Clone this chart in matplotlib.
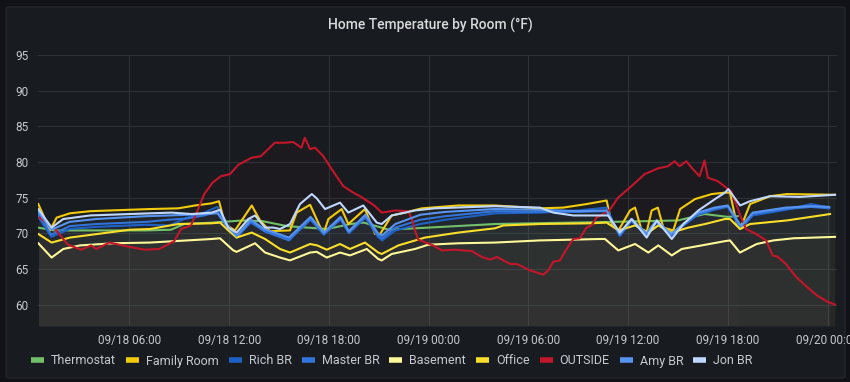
import pandas as pd
import matplotlib.pyplot as plt
import matplotlib.dates as mdates
from matplotlib.patches import FancyBboxPatch
from matplotlib.lines import Line2D

plt.rcParams['font.family'] = ['Roboto', 'DejaVu Sans']

# Time values are hours after 09/18 00:00
start = pd.Timestamp('2019-09-18 00:00')

thermo_t = [0.5, 1.5, 7.0, 8.5, 9.3, 11.0, 12.8, 14.0, 15.5, 17.9, 19.3, 20.1, 21.6, 28.0, 35.0, 39.0, 40.6, 42.0, 42.6]
thermo_v = [70.8, 70.4, 70.4, 70.5, 71.3, 71.5, 71.8, 71.7, 71.0, 70.6, 71.3, 71.5, 70.5, 71.3, 71.6, 71.8, 72.7, 72.3, 72.4]

family_t = [0.52, 1.22, 1.62, 2.42, 3.63, 6.03, 7.24, 8.94, 9.95, 10.95, 11.39, 11.75, 12.35, 13.36, 13.86, 14.46,
            15.66, 16.06, 16.87, 17.67, 17.97, 18.77, 19.17, 20.17, 20.78, 21.08, 21.78, 22.58, 23.59, 25.79, 27.99,
            30.7, 32.09, 33.51, 34.71, 35.02, 35.42, 36.12, 36.42, 36.82, 37.12, 37.42, 37.79, 38.12, 38.72, 39.13,
            40.03, 41.03, 41.83, 42.13, 42.54, 42.74, 43.34, 44.54, 45.55, 48.45]
family_v = [74.1, 70.4, 72.2, 72.8, 73.1, 73.3, 73.4, 73.5, 73.9, 74.2, 74.5, 71.3, 70.4, 73.9, 71.8, 70.3,
            70.4, 72.9, 74.0, 69.9, 72.0, 73.4, 71.3, 73.4, 69.9, 69.9, 72.5, 72.9, 73.5, 73.9, 73.9,
            73.5, 73.6, 74.1, 74.6, 71.3, 70.4, 73.2, 73.6, 70.4, 70.2, 73.2, 73.6, 70.8, 70.4, 73.4,
            74.8, 75.5, 75.7, 75.7, 71.3, 70.6, 74.1, 75.2, 75.5, 75.4]

# the three bedroom sensors share one set of sample times
blue_t = [0.52, 1.3, 2.4, 4.0, 7.0, 8.4, 9.5, 10.5, 11.3, 11.95, 12.45, 13.3, 14.1, 15.6, 16.9, 17.7, 18.7, 19.2,
          20.2, 20.95, 21.2, 22.0, 23.5, 25.0, 28.0, 30.7, 33.0, 34.7, 35.5, 36.2, 37.1, 37.7, 38.6, 39.3, 40.2,
          41.2, 42.0, 42.8, 43.5, 45.5, 47.0, 48.1]
rich_v = [72.3, 69.5, 70.6, 70.9, 71.2, 71.1, 72.2, 72.9, 73.7, 71.0, 69.6, 71.5, 70.4, 69.2, 71.9, 69.8, 72.0, 70.0,
          72.2, 69.5, 69.0, 70.4, 71.3, 71.9, 72.8, 72.9, 73.2, 73.6, 69.6, 71.7, 69.7, 71.5, 69.6, 71.0, 72.6,
          73.3, 73.7, 70.6, 72.5, 73.3, 74.1, 73.6]
master_v = [72.6, 69.8, 71.0, 71.3, 71.6, 71.9, 72.1, 72.5, 73.0, 70.6, 69.4, 71.6, 70.3, 69.0, 72.0, 69.9, 72.0, 70.1,
            72.3, 69.7, 69.3, 70.8, 71.9, 72.4, 73.1, 73.0, 73.0, 73.1, 69.7, 71.8, 69.8, 71.6, 69.7, 71.1, 72.7,
            73.4, 73.8, 70.8, 72.7, 73.4, 73.7, 73.5]
amy_v = [73.0, 70.5, 71.6, 72.0, 72.4, 72.5, 72.6, 72.7, 72.8, 70.8, 69.6, 71.9, 70.6, 69.4, 72.3, 70.1, 72.3, 70.3,
         72.6, 70.0, 69.7, 71.3, 72.6, 73.0, 73.4, 73.3, 73.1, 73.2, 69.9, 72.0, 70.0, 71.8, 69.9, 71.3, 72.9,
         73.6, 73.9, 71.0, 72.9, 73.6, 73.8, 73.7]

basement_t = [0.52, 1.32, 2.02, 3.03, 5.01, 7.24, 10.95, 11.45, 12.25, 12.45, 13.56, 14.16, 15.06, 15.66, 16.87,
              17.27, 17.87, 18.67, 19.27, 20.28, 20.97, 21.18, 21.78, 23.18, 23.98, 25.79, 27.99, 30.7, 34.31,
              34.61, 35.41, 36.42, 37.22, 37.82, 38.63, 39.23, 40.43, 41.83, 42.13, 42.73, 43.74, 44.74, 45.95, 48.45]
basement_v = [68.6, 66.6, 67.8, 68.3, 68.6, 68.7, 69.2, 69.3, 67.6, 67.4, 68.6, 67.3, 66.6, 66.2, 67.3,
              67.4, 66.6, 67.3, 66.9, 67.8, 66.4, 66.2, 67.1, 67.8, 68.4, 68.6, 68.7, 69.0, 69.2,
              69.2, 67.6, 68.5, 67.3, 68.3, 66.9, 67.8, 68.3, 68.9, 69.0, 67.3, 68.5, 69.0, 69.3, 69.5]

office_t = [0.52, 1.32, 2.42, 6.03, 7.24, 8.94, 10.95, 11.45, 11.95, 12.45, 13.36, 14.16, 15.06, 15.66, 16.87,
            17.3, 17.87, 18.67, 19.27, 20.17, 20.97, 21.18, 22.18, 23.78, 25.79, 27.99, 28.5, 30.7, 33.71, 34.71,
            35.42, 36.42, 37.22, 37.82, 38.63, 39.63, 40.63, 41.83, 42.13, 42.74, 43.34, 45.55, 48.15]
office_v = [69.9, 68.7, 69.4, 70.5, 70.6, 71.3, 71.4, 71.5, 70.4, 69.4, 70.1, 69.2, 67.8, 67.3, 68.5,
            68.3, 67.7, 68.5, 67.8, 68.7, 67.3, 67.1, 68.3, 69.4, 70.1, 70.7, 71.1, 71.3, 71.4, 71.5,
            70.4, 71.1, 70.1, 71.1, 70.1, 70.8, 71.3, 72.0, 72.0, 70.6, 71.3, 71.8, 72.7]

outside_t = [0.6, 1.6, 2.3, 3.1, 3.7, 4.0, 4.8, 6.0, 6.9, 7.8, 8.7, 9.1, 9.7, 10.1, 10.5, 11.0, 11.5, 12.05, 12.55,
             13.35, 13.9, 14.75, 15.35, 15.85, 16.35, 16.55, 16.87, 17.17, 17.67, 17.97, 18.37, 18.87, 19.47, 19.87,
             20.47, 20.78, 21.18, 21.98, 22.78, 23.02, 23.18, 23.38, 24.28, 24.79, 25.59, 26.59, 27.2, 27.7, 28.1,
             28.9, 29.3, 30.1, 30.9, 31.2, 31.5, 31.9, 32.3, 32.7, 33.1, 33.5, 33.8, 34.1, 34.5, 34.9, 35.4, 36.2,
             37.0, 37.8, 38.4, 38.8, 39.1, 39.5, 39.9, 40.3, 40.6, 40.8, 41.4, 41.8, 42.2, 42.5, 42.8, 43.1, 43.7,
             44.3, 44.7, 45.0, 45.5, 46.1, 46.75, 47.35, 48.0, 48.45]
outside_v = [72.2, 70.4, 68.4, 67.7, 68.3, 67.8, 68.7, 68.1, 67.7, 67.8, 68.9, 70.6, 71.1, 73.2, 75.5, 77.1, 78.0, 78.3, 79.6,
             80.6, 80.8, 82.7, 82.7, 82.8, 82.0, 83.4, 81.8, 82.0, 80.8, 79.7, 78.3, 76.6, 75.7, 75.2,
             74.3, 73.8, 72.9, 73.2, 73.1, 71.8, 70.4, 69.1, 68.3, 67.6, 67.7, 67.5, 66.7, 66.3, 66.7,
             65.7, 65.7, 64.8, 64.2, 64.8, 66.0, 66.2, 67.8, 69.2, 69.3, 70.8, 71.1, 72.2, 72.7, 73.3, 75.0, 76.6,
             78.3, 79.1, 79.4, 80.1, 79.4, 80.1, 79.0, 78.0, 80.2, 77.8, 77.3, 76.6, 75.9, 74.1, 72.2, 70.6, 69.9,
             69.0, 66.9, 66.7, 65.7, 63.9, 62.5, 61.3, 60.4, 60.0]

jon_t = [0.52, 1.32, 2.02, 3.63, 6.03, 7.24, 8.54, 9.75, 10.95, 11.45, 11.95, 12.45, 13.15, 13.56, 14.16, 14.66,
         15.06, 15.66, 16.26, 16.97, 17.27, 17.77, 18.67, 19.17, 20.07, 20.88, 21.18, 21.78, 23.18, 24.38, 26.79,
         27.99, 30.7, 31.5, 32.71, 34.79, 35.42, 35.5, 36.22, 37.12, 37.73, 38.63, 39.33, 40.23, 41.23, 41.83,
         42.03, 42.74, 43.34, 44.54, 46.35, 48.45]
jon_v = [73.4, 70.8, 72.0, 72.5, 72.7, 72.8, 72.9, 72.7, 72.9, 73.3, 70.8, 70.1, 72.0, 72.5, 70.8, 70.8,
         70.6, 71.3, 74.1, 75.5, 74.9, 73.4, 74.3, 72.9, 73.9, 71.5, 71.3, 72.5, 73.2, 73.5, 73.7,
         73.8, 73.6, 72.9, 72.5, 72.5, 70.4, 70.1, 72.0, 69.4, 71.8, 69.2, 71.3, 73.2, 74.8, 75.7,
         76.2, 73.9, 74.5, 75.2, 75.1, 75.4]

names = ['Thermostat', 'Family Room', 'Rich BR', 'Master BR', 'Basement', 'Office', 'OUTSIDE', 'Amy BR', 'Jon BR']
colors = ['#73BF69', '#F2CC0C', '#1F60C4', '#3274D9', '#FFF899', '#FADE2A', '#C4162A', '#5794F2', '#C0D8FF']
times = [thermo_t, family_t, blue_t, blue_t, basement_t, office_t, outside_t, blue_t, jon_t]
values = [thermo_v, family_v, rich_v, master_v, basement_v, office_v, outside_v, amy_v, jon_v]

y_min, y_max = 57, 95
text_color = '#c7c9d1'

fig = plt.figure(figsize=(8.5, 3.82), dpi=100, facecolor='#111217')

# Grafana-like panel behind the chart
panel = FancyBboxPatch((6 / 850, 1 - 378 / 382), 839 / 850, 371 / 382,
                       boxstyle='round,pad=0,rounding_size=0.004', transform=fig.transFigure,
                       facecolor='#181b1f', edgecolor='#24262b', linewidth=1, zorder=-10)
fig.patches.append(panel)

ax = fig.add_axes([38 / 850, 1 - 326 / 382, 799 / 850, 271 / 382])
ax.set_facecolor('none')

for name, col, t, v in zip(names, colors, times, values):
    x = start + pd.to_timedelta(t, unit='h')
    ax.fill_between(x, v, y_min, color=col, alpha=0.022, linewidth=0)
    ax.plot(x, v, color=col, linewidth=1.5, label=name)

ax.set_xlim(start + pd.Timedelta(hours=0.5), start + pd.Timedelta(hours=48.57))
ax.set_ylim(y_min, y_max)
ax.set_yticks(range(60, 96, 5))
ax.xaxis.set_major_locator(mdates.HourLocator(byhour=[0, 6, 12, 18]))
ax.xaxis.set_major_formatter(mdates.DateFormatter('%m/%d %H:%M'))
ax.grid(True, color='#2e3135', linewidth=0.8)
ax.set_axisbelow(True)
for s in ax.spines.values():
    s.set_visible(False)
ax.tick_params(length=0, colors=text_color, labelsize=8.5)
ax.tick_params(axis='y', pad=7)
ax.tick_params(axis='x', pad=6)

fig.text(430 / 850, 1 - 25 / 382, 'Home Temperature by Room (°F)', ha='center', va='center',
         color='#d8d9da', fontsize=10, fontweight='medium')

handles = [Line2D([], [], color=c, linewidth=4, solid_capstyle='butt') for c in colors]
fig.legend(handles, names, loc='center left', bbox_to_anchor=(31 / 850, 1 - 361 / 382), ncol=9,
           frameon=False, fontsize=9, labelcolor=text_color, handlelength=1.04, handletextpad=0.56,
           columnspacing=0.8, borderaxespad=0, borderpad=0)

fig.savefig('out.png', dpi=100, facecolor=fig.get_facecolor())
plt.close()
